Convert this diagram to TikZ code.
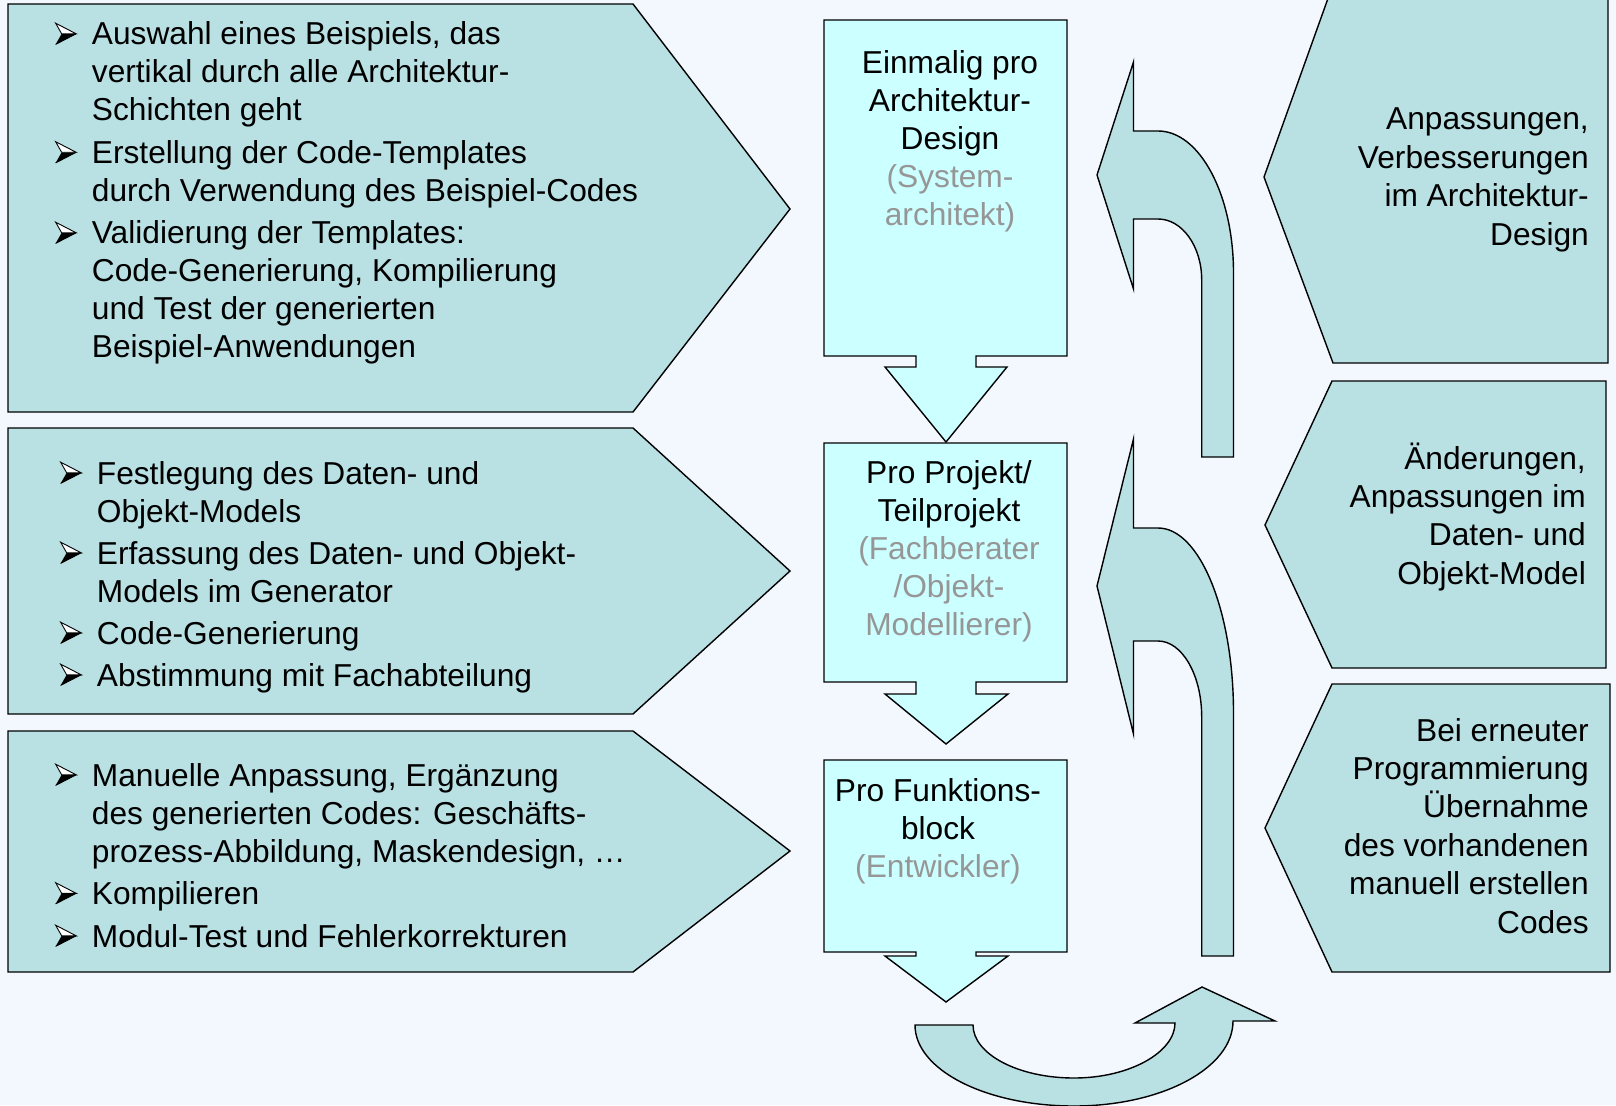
\documentclass[tikz,border=0pt]{standalone}
\usepackage{fontspec}
\setmainfont{Liberation Sans}

\definecolor{bgblue}{RGB}{243,248,254}
\definecolor{panelteal}{RGB}{185,224,227}
\definecolor{boxcyan}{RGB}{204,255,255}
\definecolor{rolegray}{RGB}{150,150,150}

% list bullet (3-D arrowhead) and hanging indent
\newcommand\arrowbullet{\tikz[x=1pt,y=1pt,baseline=0pt,line join=miter]{%
  \fill[black] (0,0.6) -- (20.5,11.2) -- (6,11.2) -- cycle;
  \draw[fill=white, line width=0.9pt] (0,21.8) -- (20.5,11.2) -- (6,11.2) -- cycle;
  \draw[line width=0.9pt] (0,0.6) -- (20.5,11.2);}}
\newcommand\bl{\makebox[36.7pt][l]{\arrowbullet}}
\newcommand\ind{\hspace*{36.7pt}}
\newcommand\role[1]{\textcolor{rolegray}{#1}}

\tikzset{
  panel/.style={fill=panelteal, draw=black, line width=1.4pt, line join=miter},
  stage/.style={fill=boxcyan, draw=black, line width=1.4pt, line join=miter},
  txt/.style={inner sep=0pt, font=\fontsize{31.7}{38}\selectfont},
  rtxt/.style={inner sep=0pt, font=\fontsize{31.7}{38.4}\selectfont},
}

\begin{document}
\begin{tikzpicture}[x=1pt, y=-1pt]
\useasboundingbox (0,0) rectangle (1616,1105);
\clip (0,0) rectangle (1616,1105);
\fill[bgblue] (0,0) rectangle (1616,1105);

% left task panels
\draw[panel] (8,4) -- (633,4) -- (790,209) -- (633,412) -- (8,412) -- cycle;
\draw[panel] (8,428) -- (633,428) -- (790,571) -- (633,714) -- (8,714) -- cycle;
\draw[panel] (8,731) -- (633,731) -- (790,851) -- (633,972) -- (8,972) -- cycle;

% right feedback panels
\draw[panel] (1608,-10) -- (1331,-10) -- (1264,177) -- (1333,363) -- (1608,363) -- cycle;
\draw[panel] (1606,381) -- (1332,381) -- (1265,525) -- (1332,668) -- (1606,668) -- cycle;
\draw[panel] (1610,684) -- (1332,684) -- (1265,828) -- (1332,972) -- (1610,972) -- cycle;

% stage boxes with down arrows
\draw[stage] (824,20) -- (1067,20) -- (1067,356) -- (976,356) -- (976,367) -- (1007,367)
  -- (946,442) -- (885,367) -- (916,367) -- (916,356) -- (824,356) -- cycle;
\draw[stage] (824,443) -- (1067,443) -- (1067,682) -- (976,682) -- (976,694) -- (1008,694)
  -- (946,744) -- (885,694) -- (916,694) -- (916,682) -- (824,682) -- cycle;
\draw[stage] (824,760) -- (1067,760) -- (1067,952) -- (976,952) -- (976,956) -- (1008,956)
  -- (946,1002) -- (885,956) -- (916,956) -- (916,952) -- (824,952) -- cycle;

% curved return arrows
\draw[panel] (1097,175) -- (1133.5,62) -- (1133.5,131) -- (1158,131)
  .. controls (1199.7,131) and (1233.5,194.6) .. (1233.5,273) -- (1233.5,457)
  -- (1201.7,457) -- (1201.7,280)
  .. controls (1201.7,246.3) and (1182.1,219) .. (1158,219) -- (1133.5,219)
  -- (1133.5,289) -- cycle;
\draw[panel] (1097,586) -- (1133.5,439) -- (1133.5,528) -- (1158,528)
  .. controls (1199.7,528) and (1233.5,611) .. (1233.5,713) -- (1233.5,956)
  -- (1201.7,956) -- (1201.7,717)
  .. controls (1201.7,675) and (1182.1,641) .. (1158,641) -- (1133.5,641)
  -- (1133.5,734) -- cycle;
\draw[panel] (915,1025) -- (973,1025)
  .. controls (973,1054) and (1018,1078) .. (1074,1078)
  .. controls (1130,1078) and (1175,1052) .. (1175,1023)
  -- (1135,1023) -- (1202,987) -- (1275,1021) -- (1233,1021)
  .. controls (1233,1068) and (1162,1106) .. (1074,1106)
  .. controls (986,1106) and (915,1070) .. (915,1025) -- cycle;

% left lists
\node[txt, anchor=base west] (listA) at (55,45) {\begin{tabular}[t]{@{}l@{}}
\bl Auswahl eines Beispiels, das\\
\ind vertikal durch alle Architektur-\\
\ind Schichten geht\\[4.5pt]
\bl Erstellung der Code-Templates\\
\ind durch Verwendung des Beispiel-Codes\\[4.5pt]
\bl Validierung der Templates:\\
\ind Code-Generierung, Kompilierung\\
\ind und Test der generierten\\
\ind Beispiel-Anwendungen
\end{tabular}};

\node[txt, anchor=base west] (listB) at (60,484) {\begin{tabular}[t]{@{}l@{}}
\bl Festlegung des Daten- und\\
\ind Objekt-Models\\[4pt]
\bl Erfassung des Daten- und Objekt-\\
\ind Models im Generator\\[4pt]
\bl Code-Generierung\\[4pt]
\bl Abstimmung mit Fachabteilung
\end{tabular}};

\node[txt, anchor=base west] (listC) at (55,786) {\begin{tabular}[t]{@{}l@{}}
\bl Manuelle Anpassung, Ergänzung\\
\ind des generierten Codes: Geschäfts-\\
\ind prozess-Abbildung, Maskendesign, …\\[4.5pt]
\bl Kompilieren\\[4.5pt]
\bl Modul-Test und Fehlerkorrekturen
\end{tabular}};

% stage labels
\node[txt, anchor=base] (stageA) at (950,74) {\begin{tabular}[t]{@{}c@{}}
Einmalig pro\\ Architektur-\\ Design\\ \role{(System-}\\ \role{architekt)}
\end{tabular}};
\node[txt, anchor=base] (stageB) at (949,483) {\begin{tabular}[t]{@{}c@{}}
Pro Projekt/\\ Teilprojekt\\ \role{(Fachberater}\\ \role{/Objekt-}\\ \role{Modellierer)}
\end{tabular}};
\node[txt, anchor=base] (stageC) at (938,801) {\begin{tabular}[t]{@{}c@{}}
Pro Funktions-\\ block\\ \role{(Entwickler)}
\end{tabular}};

% feedback labels
\node[rtxt, anchor=base east] (backA) at (1589,130) {\begin{tabular}[t]{@{}r@{}}
Anpassungen,\\ Verbesserungen\\ im Architektur-\\ Design
\end{tabular}};
\node[rtxt, anchor=base east] (backB) at (1586,469) {\begin{tabular}[t]{@{}r@{}}
Änderungen,\\ Anpassungen im\\ Daten- und\\ Objekt-Model
\end{tabular}};
\node[rtxt, anchor=base east] (backC) at (1589,741) {\begin{tabular}[t]{@{}r@{}}
Bei erneuter\\ Programmierung\\ Übernahme\\ des vorhandenen\\ manuell erstellen\\ Codes
\end{tabular}};
\end{tikzpicture}
\end{document}
